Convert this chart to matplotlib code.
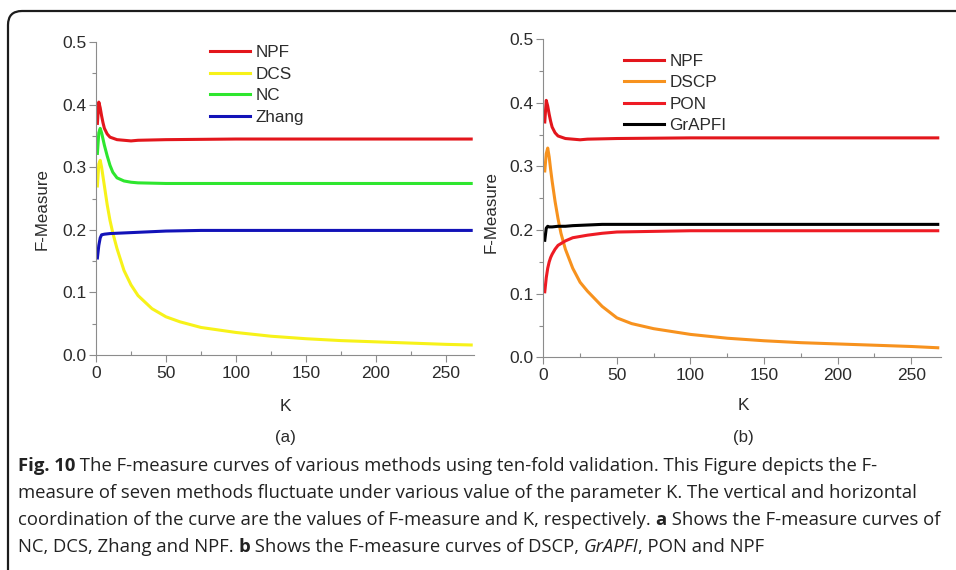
"""F-measure against K for the compared methods, two panels plus caption."""

import matplotlib.pyplot as plt
from matplotlib.patches import FancyBboxPatch

# ---- panel (a) ----
k_npf = [1, 2, 3, 4, 5, 6, 8, 10, 15, 20, 25, 30, 50, 100, 150, 200, 268]
npf = [0.370, 0.404, 0.395, 0.382, 0.371, 0.362, 0.353, 0.348, 0.344,
       0.343, 0.342, 0.343, 0.344, 0.345, 0.345, 0.345, 0.345]

k_dcs = [1, 2, 3, 4, 5, 6, 8, 10, 12, 15, 20, 25, 30, 40, 50, 60, 75,
         100, 125, 150, 175, 200, 225, 250, 268]
dcs = [0.270, 0.305, 0.311, 0.300, 0.285, 0.270, 0.240, 0.215, 0.195,
       0.170, 0.135, 0.112, 0.095, 0.074, 0.061, 0.053, 0.044, 0.036,
       0.030, 0.026, 0.023, 0.021, 0.019, 0.017, 0.016]

k_nc = [1, 2, 3, 4, 5, 6, 8, 10, 12, 15, 20, 25, 30, 50, 100, 268]
nc = [0.322, 0.355, 0.362, 0.355, 0.345, 0.335, 0.318, 0.303, 0.292,
      0.283, 0.278, 0.276, 0.275, 0.274, 0.274, 0.274]

k_zhang = [1, 2, 3, 4, 6, 10, 20, 30, 50, 75, 100, 268]
zhang = [0.155, 0.175, 0.187, 0.192, 0.193, 0.194, 0.195, 0.196, 0.198,
         0.199, 0.199, 0.199]

# ---- panel (b) ----
k_dscp = [1, 2, 3, 4, 5, 6, 8, 10, 12, 15, 20, 25, 30, 40, 50, 60, 75,
          100, 125, 150, 175, 200, 225, 250, 268]
dscp = [0.293, 0.320, 0.329, 0.315, 0.295, 0.277, 0.245, 0.218, 0.195,
        0.170, 0.140, 0.118, 0.104, 0.080, 0.062, 0.053, 0.045, 0.036,
        0.030, 0.026, 0.023, 0.021, 0.019, 0.017, 0.015]

k_pon = [1, 2, 3, 4, 5, 6, 8, 10, 15, 20, 25, 30, 40, 50, 75, 100, 268]
pon = [0.103, 0.125, 0.140, 0.150, 0.157, 0.162, 0.170, 0.176, 0.183,
       0.188, 0.190, 0.192, 0.195, 0.197, 0.198, 0.199, 0.199]

k_grapfi = [1, 2, 3, 4, 6, 10, 15, 20, 30, 40, 75, 268]
grapfi = [0.184, 0.203, 0.206, 0.205, 0.205, 0.206, 0.206, 0.207, 0.208,
          0.209, 0.209, 0.209]

x_ticks = [0, 50, 100, 150, 200, 250]
y_ticks = [0.0, 0.1, 0.2, 0.3, 0.4, 0.5]

C_NPF = '#e3161c'
C_DCS = '#f7f219'
C_NC = '#2ee62e'
C_ZHANG = '#1212b8'
C_DSCP = '#f7921e'
C_PON = '#ee1b24'
C_GRAPFI = '#000000'

AXIS_GREY = '#8c8c8c'
TEXT = '#2b2b2b'
LW = 2.2

plt.rcParams['font.family'] = ['Liberation Sans', 'DejaVu Sans']

fig = plt.figure(figsize=(9.56, 5.70), dpi=100)

# frame with a rounded top-left corner, the other sides run off the canvas
frame = FancyBboxPatch((8, -40), 1100, 559 + 40, transform=None,
                       boxstyle='round,pad=0,rounding_size=14',
                       facecolor='none', edgecolor='#1c1c1c', linewidth=1.6)
fig.patches.append(frame)

ax_a = fig.add_axes([96 / 956, 215 / 570, 378 / 956, 313 / 570])
ax_b = fig.add_axes([543.3 / 956, 212.7 / 570, 397.4 / 956, 318 / 570])


def style_axes(ax):
    ax.set_xlim(0, 270)
    ax.set_ylim(0, 0.5)
    for side in ('top', 'right'):
        ax.spines[side].set_visible(False)
    for side in ('left', 'bottom'):
        ax.spines[side].set_color(AXIS_GREY)
        ax.spines[side].set_linewidth(0.8)
    ax.set_xticks(x_ticks)
    ax.set_xticks([25, 75, 125, 175, 225], minor=True)
    ax.set_yticks(y_ticks)
    ax.set_yticks([0.05, 0.15, 0.25, 0.35, 0.45], minor=True)
    ax.set_yticklabels(['%.1f' % v for v in y_ticks])
    ax.tick_params(which='major', length=5, width=0.8, color=AXIS_GREY,
                   labelsize=12.5, labelcolor=TEXT)
    ax.tick_params(axis='x', which='major', pad=3)
    ax.tick_params(axis='y', which='major', pad=2)
    ax.tick_params(axis='x', which='minor', direction='in', length=3,
                   width=0.8, color=AXIS_GREY)
    ax.tick_params(axis='y', which='minor', direction='out', length=3,
                   width=0.8, color=AXIS_GREY)


style_axes(ax_a)
style_axes(ax_b)

ax_a.plot(k_npf, npf, color=C_NPF, lw=LW, label='NPF')
ax_a.plot(k_dcs, dcs, color=C_DCS, lw=LW, label='DCS')
ax_a.plot(k_nc, nc, color=C_NC, lw=LW, label='NC')
ax_a.plot(k_zhang, zhang, color=C_ZHANG, lw=LW, label='Zhang')

ax_b.plot(k_npf, npf, color=C_NPF, lw=LW, label='NPF')
ax_b.plot(k_dscp, dscp, color=C_DSCP, lw=LW, label='DSCP')
ax_b.plot(k_pon, pon, color=C_PON, lw=LW, label='PON')
ax_b.plot(k_grapfi, grapfi, color=C_GRAPFI, lw=LW, label='GrAPFI')

legend_kw = dict(loc='upper left', frameon=False, fontsize=12.3,
                 handlelength=2.35, handletextpad=0.3, labelspacing=0.38,
                 borderpad=0, borderaxespad=0, labelcolor=TEXT)
ax_a.legend(bbox_to_anchor=(0.302, 0.99), **legend_kw)
ax_b.legend(bbox_to_anchor=(0.203, 0.954), **legend_kw)

for ax, lx, ly, kx, ky, tag, ty in (
        (ax_a, -0.143, 0.466, 0.5, -0.166, '(a)', -0.262),
        (ax_b, -0.132, 0.457, 0.5025, -0.153, '(b)', -0.251)):
    ax.text(lx, ly, 'F-Measure', transform=ax.transAxes, rotation=90,
            ha='center', va='center', fontsize=12.2, color=TEXT)
    ax.text(kx, ky, 'K', transform=ax.transAxes, ha='center', va='center',
            fontsize=12.5, color=TEXT)
    ax.text(kx, ty, tag, transform=ax.transAxes, ha='center', va='center',
            fontsize=12.2, color=TEXT)

# caption, one row per line, pieces chained so bold/italic can be mixed
caption = [
    [('Fig. 10', 'bold', 'normal'),
     (' The F-measure curves of various methods using ten-fold validation. '
      'This Figure depicts the F-', 'normal', 'normal')],
    [('measure of seven methods fluctuate under various value of the '
      'parameter K. The vertical and horizontal', 'normal', 'normal')],
    [('coordination of the curve are the values of F-measure and K, '
      'respectively. ', 'normal', 'normal'),
     ('a', 'bold', 'normal'),
     (' Shows the F-measure curves of', 'normal', 'normal')],
    [('NC, DCS, Zhang and NPF. ', 'normal', 'normal'),
     ('b', 'bold', 'normal'),
     (' Shows the F-measure curves of DSCP, ', 'normal', 'normal'),
     ('GrAPFI', 'normal', 'italic'),
     (', PON and NPF', 'normal', 'normal')],
]
cap_rows = [466, 493, 520, 547]
cap_font = ['Open Sans', 'DejaVu Sans']
cap_size = 13.3

for row_y, pieces in zip(cap_rows, caption):
    prev = None
    for txt, weight, style in pieces:
        style_kw = dict(fontsize=cap_size, family=cap_font, weight=weight,
                        style=style, color='#222222')
        if prev is None:
            prev = fig.text(18 / 956, 1 - row_y / 570, txt, ha='left',
                            va='center', **style_kw)
        else:
            prev = fig.add_artist(plt.Annotation(
                txt, xy=(1, 0), xycoords=prev, ha='left', va='bottom',
                annotation_clip=False, **style_kw))

fig.savefig('out.png', dpi=100)
